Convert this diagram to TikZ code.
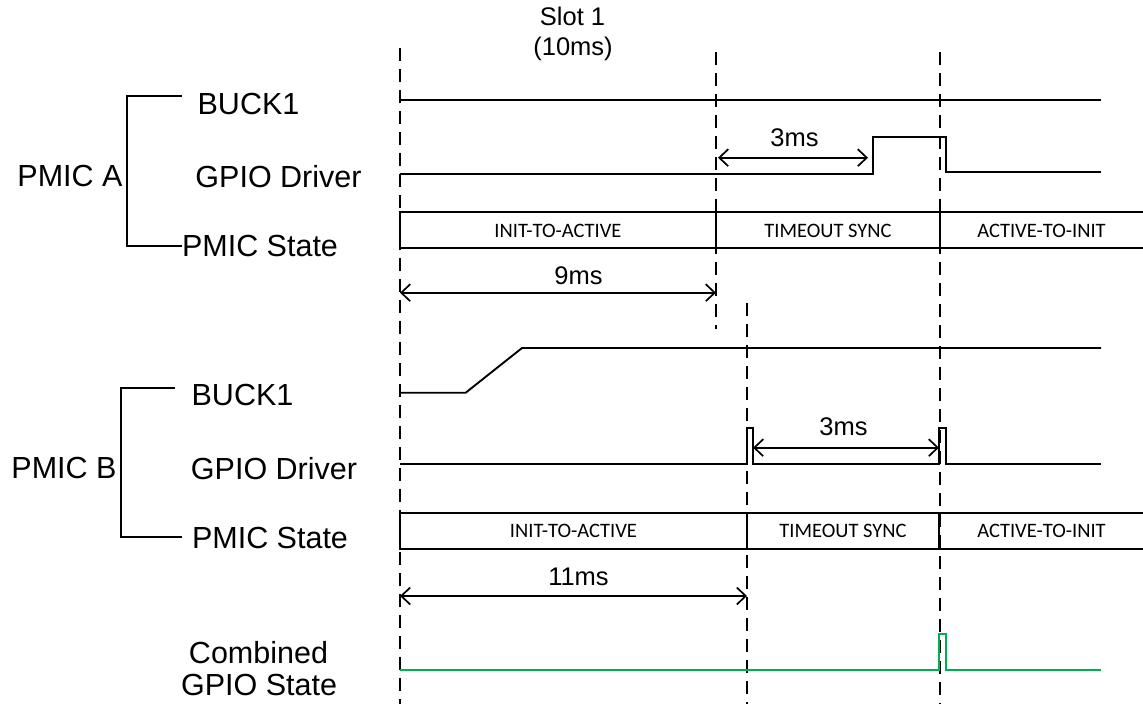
\documentclass[tikz,border=0pt]{standalone}
\usepackage{fontspec}
\setmainfont{Liberation Sans}
\newfontfamily\statefont{Carlito}
\usetikzlibrary{arrows.meta}
\definecolor{siggreen}{HTML}{00B050}
\tikzset{
  sig/.style={line width=1.9pt, line join=miter},
  gsig/.style={line width=1.9pt, draw=siggreen},
  vdash/.style={line width=1.9pt, dash pattern=on 13pt off 8pt},
  meas/.style={line width=1.7pt, {Straight Barb[length=9pt,width=17pt]}-{Straight Barb[length=9pt,width=17pt]}},
  biglab/.style={font=\fontsize{30.5}{36}\selectfont, anchor=base, inner sep=0pt},
  mslab/.style={font=\fontsize{25.5}{30}\selectfont, anchor=base, inner sep=0pt},
  stlab/.style={font=\statefont\fontsize{20.5}{24}\selectfont, anchor=base, inner sep=0pt},
  brk/.style={line width=1.9pt}
}
\begin{document}
\begin{tikzpicture}[x=1pt,y=-1pt]
\useasboundingbox (0,0) rectangle (1143,704);

% slot label
\node[mslab] (slot) at (572.5,25) {Slot 1};
\node[mslab] (slotms) at (573,55) {(10ms)};

% dashed verticals
\coordinate (d0t) at (400,48);  \coordinate (d0b) at (400,704);
\coordinate (d1t) at (716,52);  \coordinate (d1b) at (716,329);
\coordinate (d2t) at (747,303); \coordinate (d2b) at (747,704);
\coordinate (d3t) at (940,52);  \coordinate (d3b) at (940,704);
\draw[vdash] (d0t) -- (d0b);
\draw[vdash] (d1t) -- (d1b);
\draw[vdash] (d2t) -- (d2b);
\draw[vdash] (d3t) -- (d3b);

% ---------- PMIC A ----------
\node[biglab] (pa) at (70,186) {PMIC A};
\node[biglab] (pab) at (248.5,114) {BUCK1};
\node[biglab] (pag) at (278.5,187) {GPIO Driver};
\node[biglab] (pas) at (260,256.7) {PMIC State};
\coordinate (ba1) at (181.7,95.7);
\coordinate (ba2) at (181.7,245.7);
\draw[brk] (ba1) -- (126.7,95.7) -- (126.7,245.7) -- (ba2);

% BUCK1 A
\draw[sig] (400,100) -- (1101,100);
% GPIO A
\draw[sig] (400,174.3) -- (873,174.3) -- (873,136.7) -- (945.7,136.7) -- (945.7,172) -- (1101,172);
\coordinate (a3l) at (718,157.7); \coordinate (a3r) at (868,157.7);
\draw[meas] (a3l) -- (a3r);
\node[mslab] (a3ms) at (794.5,146) {3ms};
% State A
\draw[sig] (1143,211.7) -- (400,211.7) -- (400,247.7) -- (1143,247.7);
\draw[sig] (716,211.7) -- (716,247.7);
\draw[sig] (940,211.7) -- (940,247.7);
\node[stlab] (sa1) at (558,237.7) {INIT-TO-ACTIVE};
\node[stlab] (sa2) at (828,237.7) {TIMEOUT SYNC};
\node[stlab] (sa3) at (1041.5,237.7) {ACTIVE-TO-INIT};
% 9ms
\coordinate (m9l) at (400,292.7); \coordinate (m9r) at (716,292.7);
\draw[meas] (m9l) -- (m9r);
\node[mslab] (m9) at (578.5,284.3) {9ms};

% ---------- PMIC B ----------
\node[biglab] (pb) at (64,478) {PMIC B};
\node[biglab] (pbb) at (242.5,405.7) {BUCK1};
\node[biglab] (pbg) at (274,479) {GPIO Driver};
\node[biglab] (pbs) at (270,548) {PMIC State};
\coordinate (bb1) at (175,388.3);
\coordinate (bb2) at (181.7,536.7);
\draw[brk] (bb1) -- (120.7,388.3) -- (120.7,536.7) -- (bb2);

% BUCK1 B
\draw[sig] (400,392.7) -- (465.7,392.7) -- (522,348) -- (1101,348);
% GPIO B
\draw[sig] (400,464) -- (746.7,464) -- (746.7,427.7) -- (752.7,427.7) -- (752.7,464)
  -- (939,464) -- (939,427.7) -- (945.7,427.7) -- (945.7,464) -- (1101,464);
\coordinate (b3l) at (753,447.7); \coordinate (b3r) at (939,447.7);
\draw[meas] (b3l) -- (b3r);
\node[mslab] (b3ms) at (843.5,435) {3ms};
% State B
\draw[sig] (1143,512.7) -- (400,512.7) -- (400,548.7) -- (1143,548.7);
\draw[sig] (747,512.7) -- (747,548.7);
\draw[sig] (939,512.7) -- (939,548.7);
\node[stlab] (sb1) at (573.5,537.3) {INIT-TO-ACTIVE};
\node[stlab] (sb2) at (843,537.3) {TIMEOUT SYNC};
\node[stlab] (sb3) at (1041.5,537.3) {ACTIVE-TO-INIT};
% 11ms
\coordinate (m11l) at (400,596); \coordinate (m11r) at (747,596);
\draw[meas] (m11l) -- (m11r);
\node[mslab] (m11) at (578.5,585) {11ms};

% ---------- Combined ----------
\node[biglab] (c1) at (258.5,663) {Combined};
\node[biglab] (c2) at (259,695) {GPIO State};
\draw[gsig] (400,670) -- (939,670) -- (939,634) -- (945.7,634) -- (945.7,670) -- (1101,670);
\end{tikzpicture}
\end{document}
